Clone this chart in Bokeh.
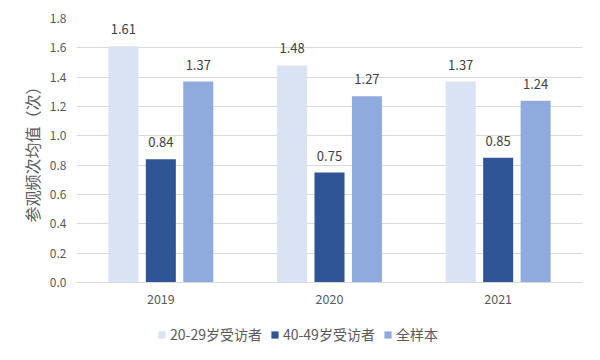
from bokeh.plotting import figure
from bokeh.layouts import column
from bokeh.models import FactorRange, Legend, LegendItem, ColumnDataSource, LabelSet, Range1d
from bokeh.core.properties import value
from bokeh.transform import dodge
from bokeh.embed import file_html
from bokeh.resources import INLINE

years = ["2019", "2020", "2021"]
series_names = ["20-29岁受访者", "40-49岁受访者", "全样本"]
young = [1.61, 1.48, 1.37]
middle = [0.84, 0.75, 0.85]
total = [1.37, 1.27, 1.24]
y_ticks = [0.0, 0.2, 0.4, 0.6, 0.8, 1.0, 1.2, 1.4, 1.6, 1.8]

colors = ["#DAE3F3", "#2F5597", "#8FAADC"]
FONT = "Noto Sans CJK SC"

src = ColumnDataSource(dict(
    year=years, young=young, middle=middle, total=total,
    young_t=[f"{v:.2f}" for v in young],
    middle_t=[f"{v:.2f}" for v in middle],
    total_t=[f"{v:.2f}" for v in total],
))

p = figure(x_range=FactorRange(*years, range_padding=0), y_range=(0, 1.8),
           frame_width=506, frame_height=264, output_backend="svg", toolbar_location=None,
           min_border_left=76, min_border_right=18, min_border_top=18, min_border_bottom=30)
p.outline_line_color = None
p.background_fill_color = "white"

offs = [-0.222, 0.0, 0.222]
keys = ["young", "middle", "total"]
for k, off, c in zip(keys, offs, colors):
    p.vbar(x=dodge("year", off, range=p.x_range), top=k, width=0.178, source=src,
           fill_color=c, line_color=None)
    lab = LabelSet(x=dodge("year", off, range=p.x_range), y=k, text=k + "_t", source=src,
                   text_align="center", text_baseline="middle", y_offset=17,
                   text_font=value(FONT), text_font_size="13px", text_color="#404040")
    p.add_layout(lab)

p.yaxis.ticker = y_ticks
p.yaxis.major_label_overrides = {t: f"{t:.1f}" for t in y_ticks}
p.yaxis.axis_line_color = None
p.yaxis.major_tick_line_color = None
p.yaxis.minor_tick_line_color = None
p.yaxis.major_tick_out = 0
p.yaxis.major_label_standoff = 10
p.yaxis.major_label_text_font = FONT
p.yaxis.major_label_text_font_size = "12px"
p.yaxis.major_label_text_color = "#595959"
p.yaxis.axis_label = "参观频次均值（次）"
p.yaxis.axis_label_text_font = FONT
p.yaxis.axis_label_text_font_size = "16px"
p.yaxis.axis_label_text_font_style = "normal"
p.yaxis.axis_label_text_color = "#595959"
p.yaxis.axis_label_standoff = 3

p.xaxis.axis_line_color = "#D9D9D9"
p.xaxis.major_tick_line_color = None
p.xaxis.minor_tick_line_color = None
p.xaxis.major_tick_out = 0
p.xaxis.major_label_standoff = 11
p.xaxis.major_label_text_font = FONT
p.xaxis.major_label_text_font_size = "12.5px"
p.xaxis.major_label_text_color = "#595959"
p.xgrid.grid_line_color = None
p.ygrid.grid_line_color = "#D9D9D9"

# legend in its own strip below the chart; it reuses the same bar source (outside its view)
lf = figure(x_range=FactorRange(*years), y_range=Range1d(10, 11),
            width=600, height=48, output_backend="svg", toolbar_location=None,
            x_axis_type=None, y_axis_type=None, min_border=0)
lf.outline_line_color = None
lf.xgrid.grid_line_color = None
lf.ygrid.grid_line_color = None
lrends = [lf.vbar(x="year", top=k, width=0.2, source=src, fill_color=c, line_color=None)
          for k, c in zip(keys, colors)]
legend = Legend(items=[LegendItem(label=n, renderers=[r]) for n, r in zip(series_names, lrends)],
                orientation="horizontal", location=(81, 16), padding=0, margin=0,
                spacing=8, label_standoff=4, glyph_width=9, glyph_height=9,
                label_text_font=FONT, label_text_font_size="14px", label_text_color="#595959",
                border_line_color=None, background_fill_alpha=0)
lf.add_layout(legend, "center")

open("out.html", "w").write(file_html(column(p, lf), INLINE))
